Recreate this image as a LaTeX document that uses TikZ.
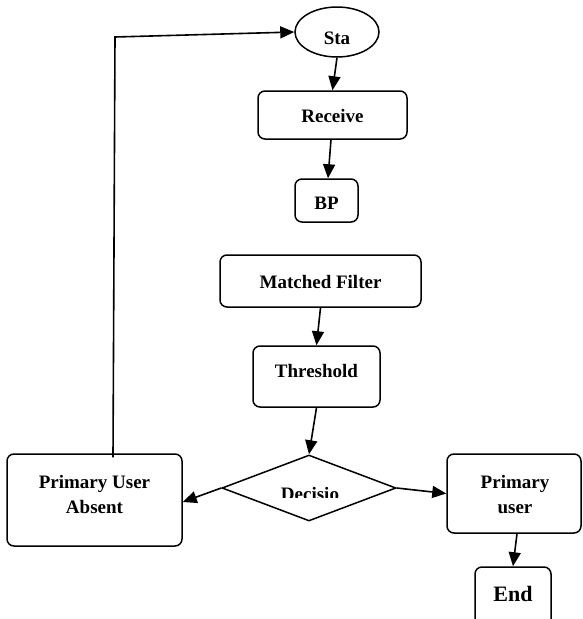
\documentclass[tikz,border=0pt]{standalone}
\usepackage{fontspec}
\setmainfont{Liberation Serif}
\usetikzlibrary{arrows.meta,shapes.geometric}
\begin{document}
\begin{tikzpicture}[x=1pt,y=-1pt,
  box/.style={draw,line width=1.5pt,rounded corners=7pt,inner sep=0pt},
  txt/.style={font=\fontsize{19}{25}\selectfont\bfseries,align=center,inner sep=0pt},
  flow/.style={line width=1.6pt,-{Triangle[length=14pt,width=12pt]}}]
\useasboundingbox (0,0) rectangle (582,619);

% start terminal
\node[draw,ellipse,line width=1.5pt,minimum width=84pt,minimum height=50pt,inner sep=0pt] (start) at (337,32) {};
\node[txt] (startT) at (337,38) {Sta};

% upper chain
\node[box,minimum width=149pt,minimum height=48pt] (receive) at (332.5,115) {};
\node[txt] (receiveT) at (332.5,116) {Receive};
\node[box,minimum width=63pt,minimum height=43pt] (bp) at (326.5,200.5) {};
\node[txt] (bpT) at (326.5,203) {BP};

% detection chain
\node[box,minimum width=201pt,minimum height=52pt] (matched) at (320.5,281) {};
\node[txt] (matchedT) at (320.5,282) {Matched Filter};
\node[box,minimum width=127pt,minimum height=61pt] (thr) at (316.5,376.5) {};
\node[txt] (thrT) at (316.5,371) {Threshold};

% decision
\node[draw,diamond,line width=1.5pt,minimum width=174pt,minimum height=66pt,aspect=2.64,inner sep=0pt] (dec) at (309,488) {};
\begin{scope}
  \clip (250,470) rectangle (370,497);
  \node[txt,anchor=base] (decT) at (310,500) {Decisio};
\end{scope}

% outcomes
\node[box,minimum width=175pt,minimum height=92pt] (absent) at (94.5,500) {};
\node[txt] (absentT) at (94.5,494.5) {Primary User\\Absent};
\node[box,minimum width=134pt,minimum height=79pt] (primary) at (514,493.5) {};
\node[txt] (primaryT) at (515,494.5) {Primary\\user};
\node[box,minimum width=76pt,minimum height=68pt] (end) at (513,601) {};
\node[txt,font=\fontsize{22}{26}\selectfont\bfseries] (endT) at (513,594) {End};

% connectors
\draw[flow] (start.south) -- (receive.north);
\draw[flow] ([xshift=-1.5pt]receive.south) -- ([xshift=1.5pt]bp.north);
\draw[flow] (matched.south) -- (thr.north);
\draw[flow] (thr.south) -- (dec.north);
\draw[flow] (dec.west) -- ([yshift=-2pt]absent.east);
\draw[flow] (dec.east) -- (primary.west);
\draw[flow] ([xshift=3pt]primary.south) -- (end.north);

% feedback loop back to start
\coordinate (loopcorner) at (115,37);
\draw[flow] ([xshift=18.5pt,yshift=-4pt]absent.north) -- (loopcorner) -- (start.west);
\end{tikzpicture}
\end{document}
